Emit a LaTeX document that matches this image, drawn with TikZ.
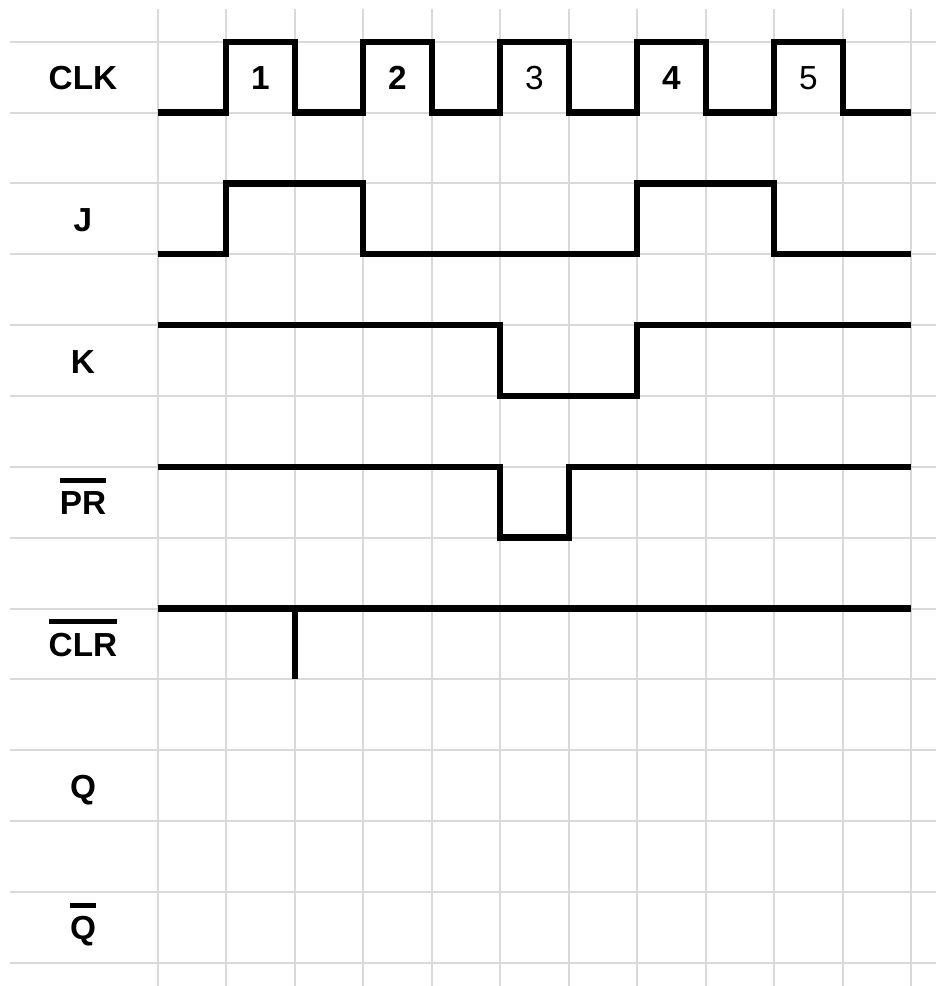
\documentclass[tikz,border=0pt]{standalone}
\usepackage{fontspec}
\setmainfont{Liberation Sans}
\definecolor{gridgray}{HTML}{D9D9D9}
\newcommand\ovl[1]{\vbox{\hrule height 3.8pt\kern 6.5pt\hbox{#1}}}
\begin{document}
\begin{tikzpicture}[x=0.75pt,y=-0.75pt,
  gridline/.style={draw=gridgray,line width=1.5pt},
  wave/.style={draw=black,line width=4.8pt,line join=miter,line cap=butt},
  sig/.style={font=\bfseries\fontsize{25}{29}\selectfont,anchor=base,inner sep=0pt},
  numb/.style={font=\bfseries\fontsize{25}{29}\selectfont,anchor=base,inner sep=0pt},
  numr/.style={font=\fontsize{25}{29}\selectfont,anchor=base,inner sep=0pt}]
\useasboundingbox (0,0) rectangle (936,986);
% grid
\foreach \i in {0,...,11} \draw[gridline] (157.7+68.5*\i,9) -- (157.7+68.5*\i,986);
\foreach \j in {0,...,13} \draw[gridline] (10,41.7+70.85*\j) -- (936,41.7+70.85*\j);
% labels
\node[sig] (clk) at (83,89.6) {CLK};
\node[sig] (j) at (83,231.3) {J};
\node[sig] (k) at (83,373) {K};
\node[sig] (pr) at (83,514.7) {\ovl{PR}};
\node[sig] (clr) at (83,656.4) {\ovl{CLR}};
\node[sig] (q) at (83,798.1) {Q};
\node[sig] (qb) at (83,939.8) {\ovl{Q}};
% clock numbers
\node[numb] (n1) at (260.5,89.6) {1};
\node[numb] (n2) at (397.5,89.6) {2};
\node[numr] (n3) at (534.5,89.6) {3};
\node[numb] (n4) at (671.5,89.6) {4};
\node[numr] (n5) at (808.5,89.6) {5};
% CLK
\draw[wave] (157.7,112.55) -- (226.2,112.55) -- (226.2,41.7) -- (294.7,41.7) -- (294.7,112.55)
  -- (363.2,112.55) -- (363.2,41.7) -- (431.7,41.7) -- (431.7,112.55)
  -- (500.2,112.55) -- (500.2,41.7) -- (568.7,41.7) -- (568.7,112.55)
  -- (637.2,112.55) -- (637.2,41.7) -- (705.7,41.7) -- (705.7,112.55)
  -- (774.2,112.55) -- (774.2,41.7) -- (842.7,41.7) -- (842.7,112.55) -- (911.2,112.55);
% J
\draw[wave] (157.7,254.25) -- (226.2,254.25) -- (226.2,183.4) -- (363.2,183.4) -- (363.2,254.25)
  -- (637.2,254.25) -- (637.2,183.4) -- (774.2,183.4) -- (774.2,254.25) -- (911.2,254.25);
% K
\draw[wave] (157.7,325.1) -- (500.2,325.1) -- (500.2,395.95) -- (637.2,395.95) -- (637.2,325.1) -- (911.2,325.1);
% PR
\draw[wave] (157.7,466.8) -- (500.2,466.8) -- (500.2,537.65) -- (568.7,537.65) -- (568.7,466.8) -- (911.2,466.8);
% CLR
\draw[wave] (157.7,608.5) -- (911.2,608.5);
\draw[wave] (294.7,608.5) -- (294.7,679.35);
\end{tikzpicture}
\end{document}
